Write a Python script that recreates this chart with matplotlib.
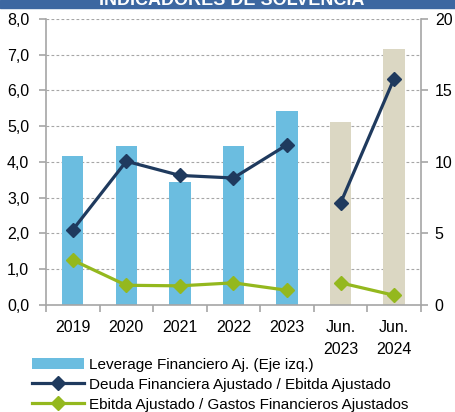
import matplotlib
matplotlib.use("Agg")
import matplotlib.pyplot as plt
from matplotlib.patches import Patch, Rectangle
from matplotlib.lines import Line2D
from matplotlib.ticker import FuncFormatter
import numpy as np

# ----------------------------------------
# Data
# ----------------------------------------
categories = ["2019", "2020", "2021", "2022", "2023", "Jun.\n2023", "Jun.\n2024"]
leverage = [4.18, 4.46, 3.43, 4.46, 5.42, 5.11, 7.15]
deuda_ebitda = [5.25, 10.05, 9.06, 8.88, 11.2, 7.12, 15.83]
ebitda_gastos = [3.14, 1.38, 1.34, 1.55, 1.03, 1.55, 0.68]
bar_colors = ["#6BBDE0"] * 5 + ["#DBD7C3"] * 2
n_annual = 5  # annual points, then the two June points (lines are broken between them)

c_deuda = "#1F3A5E"
c_green = "#94B81E"
c_grid = "#A6A6A6"

plt.rcParams["font.family"] = ["Liberation Sans", "DejaVu Sans"]

fig = plt.figure(figsize=(4.55, 4.12), dpi=100)
ax = fig.add_axes([0.101, 0.2597, 0.824, 0.6943])
ax2 = ax.twinx()

x = np.arange(len(categories))

# bars on the left axis
ax.bar(x, leverage, width=0.4, color=bar_colors, zorder=2)
ax.set_ylim(0, 8)
ax.set_yticks(np.arange(0, 9, 1))
ax.yaxis.set_major_formatter(FuncFormatter(lambda v, p: f"{v:.1f}".replace(".", ",")))
ax.yaxis.grid(True, color=c_grid, linestyle=(0, (2.5, 2)), linewidth=0.8, zorder=1)
ax.set_axisbelow(True)
ax.set_xlim(-0.5, len(categories) - 0.5)

# lines on the right axis, two segments each
for vals, col in ((deuda_ebitda, c_deuda), (ebitda_gastos, c_green)):
    ax2.plot(x[:n_annual], vals[:n_annual], color=col, linewidth=2.3,
             marker="D", markersize=7.5, zorder=3)
    ax2.plot(x[n_annual:], vals[n_annual:], color=col, linewidth=2.3,
             marker="D", markersize=7.5, zorder=3)
ax2.set_ylim(0, 20)
ax2.set_yticks([0, 5, 10, 15, 20])

# spines and ticks
for a in (ax, ax2):
    a.spines["top"].set_visible(False)
    for s in ("left", "right", "bottom"):
        a.spines[s].set_color(c_grid)
        a.spines[s].set_linewidth(1.2)
ax.spines["right"].set_visible(False)
ax2.spines["left"].set_visible(False)
ax2.spines["bottom"].set_visible(False)

ax.set_xticks(x)
ax.set_xticklabels(categories, fontsize=11.5, linespacing=1.55)
ax.set_xticks(np.arange(-0.5, len(categories), 1), minor=True)
ax.tick_params(axis="x", which="major", length=0, pad=11)
ax.tick_params(axis="x", which="minor", length=5, color=c_grid, width=1.2)
ax.tick_params(axis="y", length=5, color=c_grid, width=1.2, labelsize=11.5, pad=7)
ax2.tick_params(axis="y", length=5, color=c_grid, width=1.2, labelsize=11.5, pad=5)

# title band (cropped at the top, as in the source)
fig.patches.append(Rectangle((0, 1 - 8 / 412), 1, 8 / 412, transform=fig.transFigure,
                             color="#3C67A1", zorder=0))
fig.text(0.51, 1 - 5 / 412, "INDICADORES DE SOLVENCIA", color="white",
         fontsize=13, fontweight="bold", ha="center", va="baseline")

# legend
handles = [
    Patch(facecolor="#6BBDE0", edgecolor="none"),
    Line2D([], [], color=c_deuda, linewidth=2.3, marker="D", markersize=7),
    Line2D([], [], color=c_green, linewidth=2.3, marker="D", markersize=7),
]
labels = [
    "Leverage Financiero Aj. (Eje izq.)",
    "Deuda Financiera Ajustado / Ebitda Ajustado",
    "Ebitda Ajustado / Gastos Financieros Ajustados",
]
fig.legend(handles, labels, loc="upper left", bbox_to_anchor=(0.07, 0.132),
           frameon=False, fontsize=11, handlelength=3.4, handleheight=0.7,
           handletextpad=0.35, labelspacing=0.4, borderaxespad=0, borderpad=0,
           numpoints=1)

fig.savefig("out.png", dpi=100)
